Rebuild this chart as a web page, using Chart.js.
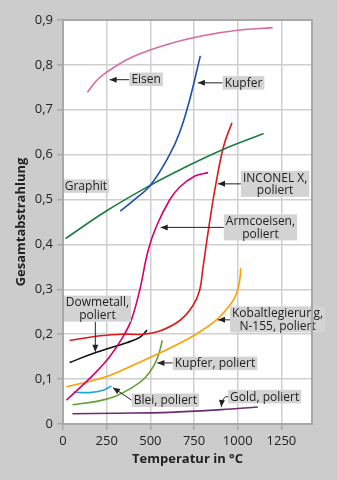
<!DOCTYPE html>
<html lang="de">
<head>
    <meta charset="UTF-8">
    <title>Gesamtabstrahlung</title>
    <style>
        html, body {
            margin: 0;
            padding: 0;
            background: #cccccc;
        }
        canvas {
            display: block;
        }
    </style>
    <script src="https://cdn.jsdelivr.net/npm/chart.js"></script>
</head>
<body>
    <canvas id="grafik" width="337" height="480"></canvas>

    <script>
        // Achsen
        const xTickLabels = ['0', '250', '500', '750', '1000', '1250'];
        const yTickLabels = ['0', '0,1', '0,2', '0,3', '0,4', '0,5', '0,6', '0,7', '0,8', '0,9'];

        // Messreihen: Temperatur (°C) und Gesamtabstrahlung
        const eisenT = [140, 190, 250, 400, 600, 800, 1000, 1200];
        const eisenV = [0.739, 0.764, 0.784, 0.818, 0.846, 0.865, 0.877, 0.883];

        const kupferT = [328, 400, 500, 610, 668, 720, 786];
        const kupferV = [0.474, 0.497, 0.532, 0.600, 0.650, 0.715, 0.820];

        const graphitT = [14, 250, 500, 668, 906, 1148];
        const graphitV = [0.413, 0.475, 0.532, 0.566, 0.610, 0.647];

        const inconelT = [38, 200, 330, 460, 553, 667, 744, 782, 800, 820, 845, 875, 920, 967];
        const inconelV = [0.186, 0.196, 0.200, 0.200, 0.207, 0.230, 0.264, 0.298, 0.345, 0.400, 0.465, 0.535, 0.620, 0.671];

        const armcoT = [19, 172, 267, 343, 391, 439, 486, 534, 610, 668, 753, 830];
        const armcoV = [0.053, 0.109, 0.150, 0.194, 0.232, 0.298, 0.385, 0.440, 0.499, 0.528, 0.552, 0.560];

        const dowT = [38, 172, 363, 439, 481];
        const dowV = [0.137, 0.157, 0.181, 0.193, 0.209];

        const kobaltT = [19, 172, 267, 363, 553, 667, 744, 878, 963, 995, 1012, 1017];
        const kobaltV = [0.083, 0.097, 0.108, 0.124, 0.158, 0.180, 0.196, 0.232, 0.269, 0.293, 0.322, 0.347];

        const kupferPolT = [54, 200, 300, 400, 470, 520, 550, 568];
        const kupferPolV = [0.043, 0.051, 0.062, 0.082, 0.103, 0.130, 0.158, 0.186];

        const bleiT = [61, 150, 230, 277];
        const bleiV = [0.071, 0.070, 0.075, 0.085];

        const goldT = [54, 300, 610, 906, 1115];
        const goldV = [0.023, 0.024, 0.026, 0.032, 0.038];

        function punkte(t, v) {
            return t.map((x, i) => ({ x: x, y: v[i] }));
        }

        function reihe(name, t, v, farbe) {
            return {
                label: name,
                data: punkte(t, v),
                borderColor: farbe,
                borderWidth: 1.6,
                pointRadius: 0,
                showLine: true,
                fill: false,
                tension: 0.4
            };
        }

        // Beschriftungen (Lage in Datenkoordinaten)
        const beschriftungen = [
            { text: ['Eisen'], x: 476, y: 0.768, tip: [267, 0.767], von: 'links' },
            { text: ['Kupfer'], x: 1033, y: 0.760, tip: [772, 0.760], von: 'links' },
            { text: ['Graphit'], x: 131, y: 0.530 },
            { text: ['INCONEL X,', 'poliert'], x: 1214, y: 0.535, tip: [887, 0.535], von: 'links' },
            { text: ['Armcoeisen,', 'poliert'], x: 1130, y: 0.438, tip: [559, 0.438], von: 'links' },
            { text: ['Dowmetall,', 'poliert'], x: 197, y: 0.257, tip: [185, 0.161], von: 'unten' },
            { text: ['Kobaltlegierung,', 'N-155, poliert'], x: 1228, y: 0.233, tip: [887, 0.232], von: 'links' },
            { text: ['Kupfer, poliert'], x: 870, y: 0.135, tip: [540, 0.136], von: 'links' },
            { text: ['Blei, poliert'], x: 586, y: 0.053, tip: [286, 0.081], von: 'links' },
            { text: ['Gold, poliert'], x: 1154, y: 0.061, tip: [906, 0.038], von: 'bogen' }
        ];

        function pfeilspitze(ctx, x0, y0, x1, y1) {
            const w = Math.atan2(y1 - y0, x1 - x0);
            ctx.beginPath();
            ctx.moveTo(x1, y1);
            ctx.lineTo(x1 - 7 * Math.cos(w) + 3 * Math.sin(w), y1 - 7 * Math.sin(w) - 3 * Math.cos(w));
            ctx.lineTo(x1 - 7 * Math.cos(w) - 3 * Math.sin(w), y1 - 7 * Math.sin(w) + 3 * Math.cos(w));
            ctx.closePath();
            ctx.fill();
        }

        const hintergrund = {
            id: 'hintergrund',
            beforeDraw(chart) {
                const { ctx, chartArea: a } = chart;
                ctx.save();
                ctx.fillStyle = '#ffffff';
                ctx.fillRect(a.left, a.top, a.right - a.left, a.bottom - a.top);
                ctx.restore();
            },
            afterDraw(chart) {
                const { ctx, chartArea: a } = chart;
                ctx.save();
                ctx.strokeStyle = '#a8a8a8';
                ctx.lineWidth = 2;
                ctx.strokeRect(a.left, a.top, a.right - a.left, a.bottom - a.top);
                ctx.restore();
            }
        };

        const etiketten = {
            id: 'etiketten',
            afterDatasetsDraw(chart) {
                const ctx = chart.ctx;
                const xs = chart.scales.x;
                const ys = chart.scales.y;
                ctx.save();
                ctx.font = '12px "Open Sans", sans-serif';
                ctx.textAlign = 'center';
                ctx.textBaseline = 'middle';
                const zeile = 12.5;
                beschriftungen.forEach(b => {
                    const cx = xs.getPixelForValue(b.x);
                    const cy = ys.getPixelForValue(b.y);
                    const breite = Math.max(...b.text.map(t => ctx.measureText(t).width)) + 4;
                    const hoehe = b.text.length * zeile + 1;
                    const links = cx - breite / 2;
                    const oben = cy - hoehe / 2;

                    if (b.tip) {
                        const tx = xs.getPixelForValue(b.tip[0]);
                        const ty = ys.getPixelForValue(b.tip[1]);
                        ctx.strokeStyle = '#222';
                        ctx.fillStyle = '#222';
                        ctx.lineWidth = 1;
                        let sx, sy;
                        if (b.von === 'unten') {
                            sx = tx; sy = oben + hoehe;
                            ctx.beginPath(); ctx.moveTo(sx, sy); ctx.lineTo(tx, ty); ctx.stroke();
                            pfeilspitze(ctx, sx, sy, tx, ty);
                        } else if (b.von === 'bogen') {
                            sx = links; sy = cy;
                            const kx = tx + 1, ky = sy - 1;
                            ctx.beginPath(); ctx.moveTo(sx, sy); ctx.quadraticCurveTo(kx, ky, tx, ty); ctx.stroke();
                            pfeilspitze(ctx, kx, ky, tx, ty);
                        } else {
                            sx = links;
                            sy = (Math.abs(ty - cy) < hoehe / 2) ? ty : cy;
                            ctx.beginPath(); ctx.moveTo(sx, sy); ctx.lineTo(tx, ty); ctx.stroke();
                            pfeilspitze(ctx, sx, sy, tx, ty);
                        }
                    }

                    ctx.fillStyle = '#d3d3d3';
                    ctx.fillRect(links, oben, breite, hoehe);
                    ctx.fillStyle = '#222';
                    b.text.forEach((t, i) => {
                        ctx.fillText(t, cx, oben + zeile / 2 + 1 + i * zeile);
                    });
                });
                ctx.restore();
            }
        };

        const ctx = document.getElementById('grafik').getContext('2d');
        const grafik = new Chart(ctx, {
            type: 'scatter',
            data: {
                datasets: [
                    reihe('Eisen', eisenT, eisenV, '#da6aa2'),
                    reihe('Kupfer', kupferT, kupferV, '#1f4faa'),
                    reihe('Graphit', graphitT, graphitV, '#1a7d44'),
                    reihe('INCONEL X, poliert', inconelT, inconelV, '#d91a1e'),
                    reihe('Armcoeisen, poliert', armcoT, armcoV, '#d6006e'),
                    reihe('Dowmetall, poliert', dowT, dowV, '#111111'),
                    reihe('Kobaltlegierung, N-155, poliert', kobaltT, kobaltV, '#ffa000'),
                    reihe('Kupfer, poliert', kupferPolT, kupferPolV, '#62a034'),
                    reihe('Blei, poliert', bleiT, bleiV, '#1fa6d8'),
                    reihe('Gold, poliert', goldT, goldV, '#6c2d70')
                ]
            },
            options: {
                responsive: false,
                animation: false,
                devicePixelRatio: 1,
                layout: { padding: { top: 20, right: 25, left: 0, bottom: 0 } },
                plugins: {
                    legend: { display: false },
                    tooltip: { enabled: false }
                },
                scales: {
                    x: {
                        type: 'linear',
                        min: 0,
                        max: 1425,
                        afterFit: s => { s.height = 56; },
                        ticks: {
                            stepSize: 250,
                            includeBounds: false,
                            maxRotation: 0,
                            padding: 3,
                            color: '#222',
                            font: { family: 'Open Sans', size: 13 },
                            callback: (v, i) => xTickLabels[i]
                        },
                        grid: { color: '#cfcfcf', lineWidth: 1.5, tickLength: 6, tickColor: '#a8a8a8' },
                        border: { color: '#a8a8a8', width: 2 },
                        title: {
                            display: true,
                            text: 'Temperatur in °C',
                            color: '#222',
                            font: { family: 'Open Sans', size: 13, weight: 'bold' },
                            padding: { top: 4, bottom: 13 }
                        }
                    },
                    y: {
                        type: 'linear',
                        min: 0,
                        max: 0.9,
                        afterFit: s => { s.width = 63; },
                        ticks: {
                            stepSize: 0.1,
                            padding: 4,
                            color: '#222',
                            font: { family: 'Open Sans', size: 13 },
                            callback: (v, i) => yTickLabels[i]
                        },
                        grid: { color: '#cfcfcf', lineWidth: 1.5, tickLength: 6, tickColor: '#a8a8a8' },
                        border: { color: '#a8a8a8', width: 2 },
                        title: {
                            display: true,
                            text: 'Gesamtabstrahlung',
                            color: '#222',
                            font: { family: 'Open Sans', size: 13, weight: 'bold' },
                            padding: { top: 13, bottom: 4 }
                        }
                    }
                }
            },
            plugins: [hintergrund, etiketten]
        });
    </script>
</body>
</html>
